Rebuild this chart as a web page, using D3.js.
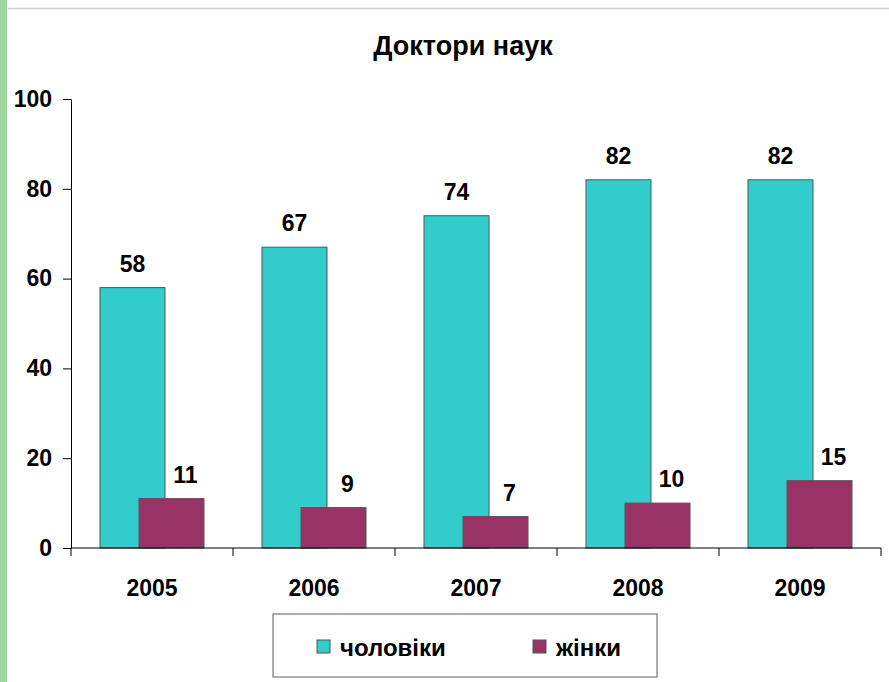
<!DOCTYPE html>
<html><head><meta charset="utf-8">
<script src="https://cdn.jsdelivr.net/npm/d3@7"></script>
<style>body{margin:0;background:#fff}svg{display:block;font-family:"Liberation Sans",Arial,sans-serif}</style>
</head><body><svg id="c" width="889" height="682"></svg>
<script>
const title = "Доктори наук";
const years = ["2005","2006","2007","2008","2009"];
const men = [58,67,74,82,82];
const women = [11,9,7,10,15];
const seriesNames = ["чоловіки","жінки"];
const seriesColors = ["#33CCCC","#993366"];
const yTicks = [0,20,40,60,80,100];

const svg = d3.select("#c");
// frame decorations
svg.append("rect").attr("x",0).attr("y",0).attr("width",7).attr("height",682).attr("fill","#9FD6A2");
svg.append("line").attr("x1",8).attr("x2",889).attr("y1",8.5).attr("y2",8.5).attr("stroke","#cfcfcf").attr("stroke-width",1.5);

const pL=71, pR=881, pT=99, pB=548;
const x = d3.scaleBand().domain(years).range([pL,pR]);
const y = d3.scaleLinear().domain([0,100]).range([pB,pT]);
const inner = d3.scaleBand().domain([0,1]).range([-39,39]);
const labelShift = [0,14];

svg.append("text").attr("x",463).attr("y",55).attr("text-anchor","middle")
  .attr("font-size",27).attr("font-weight","bold").text(title);

// bars
const data = [men, women];
data.forEach((vals,si)=>{
  const g = svg.append("g");
  const cx = i => x(years[i])+x.bandwidth()/2+inner(si)+inner.bandwidth()/2;
  g.selectAll("rect").data(vals).join("rect")
    .attr("x",(d,i)=>cx(i)-32.5)
    .attr("width",65)
    .attr("y",d=>y(d)).attr("height",d=>y(0)-y(d))
    .attr("fill",seriesColors[si]).attr("stroke","#555").attr("stroke-width",1);
  g.selectAll("text").data(vals).join("text")
    .attr("x",(d,i)=>cx(i)+labelShift[si])
    .attr("y",d=>y(d)-16).attr("text-anchor","middle")
    .attr("font-size",23).attr("font-weight","bold").text(d=>d);
});

// axes
const ya = svg.append("g").attr("transform",`translate(${pL},0)`)
  .call(d3.axisLeft(y).tickValues(yTicks).tickSize(8).tickPadding(11));
ya.select(".domain").attr("stroke","#000");
ya.selectAll(".tick line").attr("stroke","#000");
ya.selectAll("text").attr("font-size",23).attr("font-weight","bold").attr("font-family","Liberation Sans, Arial, sans-serif").attr("fill","#000");

const xa = svg.append("g").attr("transform",`translate(0,${pB})`)
  .call(d3.axisBottom(x).tickSize(0).tickPadding(32));
xa.select(".domain").attr("stroke","#000").attr("d",`M${pL},0H${pR}`);
xa.selectAll("text").attr("font-size",23).attr("font-weight","bold").attr("font-family","Liberation Sans, Arial, sans-serif").attr("fill","#000");
// category boundary ticks
svg.append("g").selectAll("line").data(years.concat(["end"])).join("line")
  .attr("x1",(d,i)=>i<years.length?x(d):pR).attr("x2",(d,i)=>i<years.length?x(d):pR)
  .attr("y1",pB).attr("y2",pB+8).attr("stroke","#000");

// legend
const lg = svg.append("g");
lg.append("rect").attr("x",273).attr("y",614).attr("width",384).attr("height",63)
  .attr("fill","#fff").attr("stroke","#777").attr("stroke-width",1.2);
const lx=[317,533];
seriesNames.forEach((n,i)=>{
  lg.append("rect").attr("x",lx[i]).attr("y",640).attr("width",13).attr("height",13)
    .attr("fill",seriesColors[i]).attr("stroke","#555");
  lg.append("text").attr("x",lx[i]+23).attr("y",656).attr("font-size",24).attr("font-weight","bold").text(n);
});
</script></body></html>
